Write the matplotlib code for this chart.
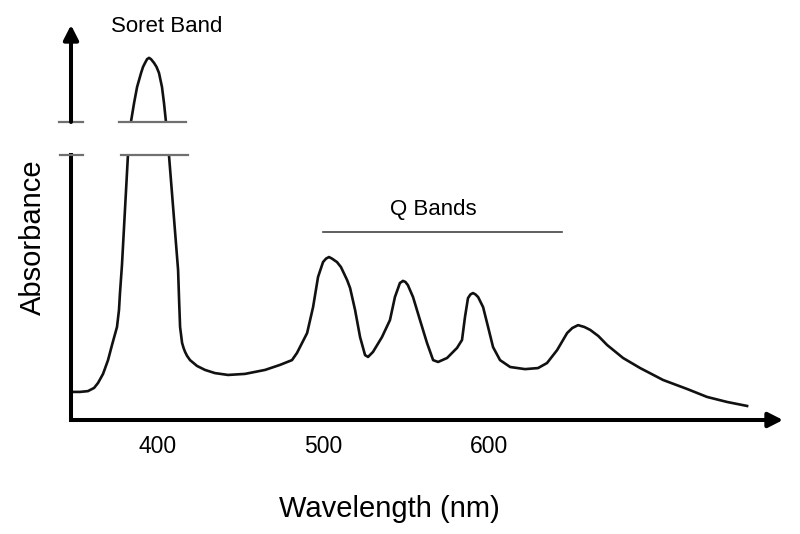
import numpy as np
import matplotlib
matplotlib.use('Agg')
import matplotlib.pyplot as plt

plt.rcParams['font.family'] = ['Liberation Sans', 'DejaVu Sans']

# schematic porphyrin absorption spectrum
wavelength = [348.0, 353.4, 358.2, 361.9, 364.3, 367.3, 370.3, 372.7, 375.7, 376.9,
              377.5, 378.7, 382.3, 384.1, 386.0, 387.8, 390.2, 391.4, 392.6, 393.8,
              395.0, 396.2, 398.0, 399.5, 401.0, 402.8, 404.0, 405.2, 407.0, 412.5,
              413.1, 413.7, 414.9, 415.8, 416.7, 417.9, 419.7, 423.9, 428.7, 434.7,
              442.6, 452.8, 464.9, 473.9, 481.1, 484.1, 490.2, 493.8, 496.8, 499.8,
              501.6, 503.4, 505.2, 508.2, 510.6, 514.3, 516.1, 519.1, 522.1, 525.1,
              526.9, 529.9, 535.3, 540.1, 543.1, 546.1, 547.1, 547.9, 549.4, 550.9,
              554.0, 558.2, 562.4, 566.1, 569.1, 574.5, 580.5, 583.5, 585.3, 587.1,
              588.6, 590.1, 591.6, 593.2, 596.2, 599.2, 602.2, 606.4, 612.5, 621.5,
              629.3, 634.7, 640.8, 646.8, 649.9, 653.4, 657.2, 660.7, 665.6, 670.9,
              680.5, 690.8, 704.6, 719.1, 731.1, 743.2, 755.2]
absorbance = [0.106, 0.106, 0.109, 0.121, 0.140, 0.174, 0.226, 0.283, 0.351, 0.415,
              0.479, 0.585, 1.000, 2.000, 2.072, 2.132, 2.185, 2.208, 2.223, 2.237,
              2.242, 2.237, 2.223, 2.208, 2.185, 2.132, 2.072, 2.000, 1.000, 0.566,
              0.453, 0.351, 0.291, 0.272, 0.257, 0.242, 0.226, 0.204, 0.189, 0.177,
              0.170, 0.174, 0.189, 0.208, 0.226, 0.253, 0.328, 0.426, 0.540, 0.596,
              0.609, 0.615, 0.609, 0.596, 0.577, 0.528, 0.498, 0.415, 0.313, 0.245,
              0.238, 0.257, 0.313, 0.377, 0.464, 0.517, 0.521, 0.525, 0.521, 0.509,
              0.464, 0.377, 0.291, 0.226, 0.219, 0.234, 0.272, 0.302, 0.389, 0.460,
              0.474, 0.479, 0.474, 0.464, 0.426, 0.351, 0.275, 0.226, 0.200, 0.192,
              0.196, 0.215, 0.264, 0.328, 0.347, 0.358, 0.351, 0.340, 0.317, 0.283,
              0.234, 0.196, 0.151, 0.117, 0.087, 0.068, 0.053]

tick_values = [400, 500, 600]
tick_labels = ['400', '500', '600']

# broken axis: lower part and the top of the soret peak
x_range = (348, 769)
lower_range = (0.0, 1.0)
upper_range = (2.0, 2.366)

q_band_span = [500, 644]
q_band_level = 0.71

fig = plt.figure(figsize=(8, 5.34), dpi=100)
ax = fig.add_axes([0.08875, 0.21348, 0.87375, 0.49625])
ax_top = fig.add_axes([0.08875, 0.77154, 0.87375, 0.18165])

for a in (ax, ax_top):
    a.plot(wavelength, absorbance, color='#111111', lw=1.9, solid_joinstyle='round')
    a.set_xlim(*x_range)
    for s in a.spines.values():
        s.set_visible(False)
    a.patch.set_alpha(0)

ax.set_ylim(*lower_range)
ax_top.set_ylim(*upper_range)
ax_top.set_xticks([])
ax_top.set_yticks([])

ax.set_yticks([])
ax.set_xticks(tick_values)
ax.set_xticklabels(tick_labels, fontsize=16.5)
ax.tick_params(axis='x', length=0, pad=11)

# axis lines with arrow heads
arrow = dict(arrowstyle='-|>,head_length=0.55,head_width=0.28', lw=2.9, color='black',
             shrinkA=0, shrinkB=0, mutation_scale=16)
ax.annotate('', xy=(1.0186, 0), xytext=(0, 0), xycoords='axes fraction', arrowprops=arrow)
ax.plot([0, 0], [0, 1], transform=ax.transAxes, color='black', lw=2.9, clip_on=False,
        solid_capstyle='projecting')
ax_top.annotate('', xy=(0, 1), xytext=(0, 0), xycoords='axes fraction', arrowprops=arrow)

# break marks
brk = dict(color='#707070', lw=1.6, clip_on=False)
ax.plot([-0.016, 0.017], [1, 1], transform=ax.transAxes, **brk)
ax.plot([0.072, 0.167], [1, 1], transform=ax.transAxes, **brk)
ax_top.plot([-0.017, 0.017], [0, 0], transform=ax_top.transAxes, **brk)
ax_top.plot([0.069, 0.165], [0, 0], transform=ax_top.transAxes, **brk)

# Q band bracket
ax.plot(q_band_span, [q_band_level, q_band_level], color='#444444', lw=1.2)
ax.text(566, 0.774, 'Q Bands', fontsize=16, ha='center', va='baseline')
ax_top.text(405.8, 2.340, 'Soret Band', fontsize=16, ha='center', va='baseline')

ax.set_xlabel('Wavelength (nm)', fontsize=21)
ax.xaxis.set_label_coords(0.456, -0.336)
ax.xaxis.label.set_va('center')
ax.set_ylabel('Absorbance', fontsize=21)
ax.yaxis.set_label_coords(-0.054, 0.69)
ax.yaxis.label.set_va('center')

fig.savefig('out.png', dpi=100)
